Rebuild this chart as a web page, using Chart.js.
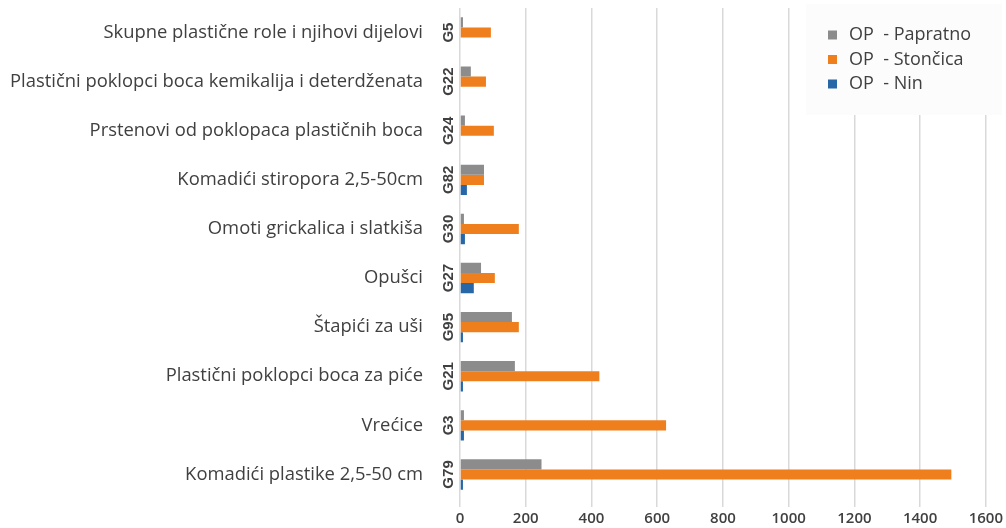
<!DOCTYPE html>
<html>
<head>
<meta charset="utf-8">
<script src="https://cdn.jsdelivr.net/npm/chart.js"></script>
<style>
  html, body { margin: 0; padding: 0; background: #fff; }
  #wrap { width: 1006px; height: 528px; position: relative; }
</style>
</head>
<body>
<div id="wrap"><canvas id="c"></canvas></div>
<script>
// categories, top to bottom
const codes = ['G5', 'G22', 'G24', 'G82', 'G30', 'G27', 'G95', 'G21', 'G3', 'G79'];
const names = [
  'Skupne plastične role i njihovi dijelovi',
  'Plastični poklopci boca kemikalija i deterdženata',
  'Prstenovi od poklopaca plastičnih boca',
  'Komadići stiropora 2,5-50cm',
  'Omoti grickalica i slatkiša',
  'Opušci',
  'Štapići za uši',
  'Plastični poklopci boca za piće',
  'Vrećice',
  'Komadići plastike 2,5-50 cm'
];
const papratno = [9, 33, 15, 73, 12, 64, 158, 167, 12, 248];
const stoncica = [94, 79, 103, 73, 179, 106, 179, 424, 627, 1495];
const nin = [0, 0, 0, 21, 15, 42, 9, 9, 12, 9];
const xTicks = [0, 200, 400, 600, 800, 1000, 1200, 1400, 1600];

const textCol = '#404040';

// rotated group codes next to the category names
const codePlugin = {
  id: 'codes',
  afterDraw(chart) {
    const ctx = chart.ctx, y = chart.scales.y;
    ctx.save();
    ctx.fillStyle = textCol;
    ctx.font = 'bold 15px "Liberation Sans", Arial, sans-serif';
    ctx.textAlign = 'center';
    ctx.textBaseline = 'middle';
    codes.forEach((c, i) => {
      ctx.save();
      ctx.translate(449, y.getPixelForValue(i));
      ctx.rotate(-Math.PI / 2);
      ctx.fillText(c, 0, 0);
      ctx.restore();
    });
    ctx.restore();
  }
};

// legend floating in the top right corner
const legendPlugin = {
  id: 'boxLegend',
  afterDraw(chart) {
    const ctx = chart.ctx;
    ctx.save();
    ctx.fillStyle = '#fcfcfc';
    ctx.fillRect(806, 4, 196, 111);
    ctx.font = '18px "Open Sans", sans-serif';
    ctx.textBaseline = 'middle';
    chart.data.datasets.forEach((ds, i) => {
      const yy = 35 + i * 24.5;
      ctx.fillStyle = ds.backgroundColor;
      ctx.fillRect(828, yy - 4.5, 9, 9);
      ctx.fillStyle = textCol;
      ctx.fillText(ds.label, 849, yy);
    });
    ctx.restore();
  }
};

new Chart(document.getElementById('c'), {
  type: 'bar',
  data: {
    labels: names,
    datasets: [
      { label: 'OP  - Papratno', data: papratno, backgroundColor: '#8c8c8c' },
      { label: 'OP  - Stončica', data: stoncica, backgroundColor: '#ef7f1d' },
      { label: 'OP  - Nin', data: nin, backgroundColor: '#2767a8' }
    ]
  },
  options: {
    indexAxis: 'y',
    responsive: true,
    maintainAspectRatio: false,
    animation: false,
    layout: { padding: { top: 8, bottom: 0, left: 0, right: 0 } },
    datasets: { bar: { barPercentage: 1, categoryPercentage: 0.62 } },
    plugins: { legend: { display: false }, tooltip: { enabled: false } },
    scales: {
      x: {
        min: 0, max: 1600,
        afterBuildTicks: s => { s.ticks = xTicks.map(v => ({ value: v })); },
        afterFit: s => { s.height = 29; },
        grid: { color: '#d9d9d9', lineWidth: 1.5, tickLength: 8, drawTicks: true },
        border: { display: false },
        ticks: {
          color: textCol, padding: 3,
          font: { size: 15, weight: '600', family: '"Open Sans", sans-serif' },
          callback: v => String(v)
        }
      },
      y: {
        afterFit: s => { s.width = 460; s.paddingTop = 0; s.paddingBottom = 0; },
        grid: { display: false, drawTicks: false },
        border: { display: false },
        ticks: { color: textCol, padding: 37, font: { size: 18.4, family: '"Open Sans", sans-serif' } }
      }
    }
  },
  plugins: [codePlugin, legendPlugin]
});
</script>
</body>
</html>
